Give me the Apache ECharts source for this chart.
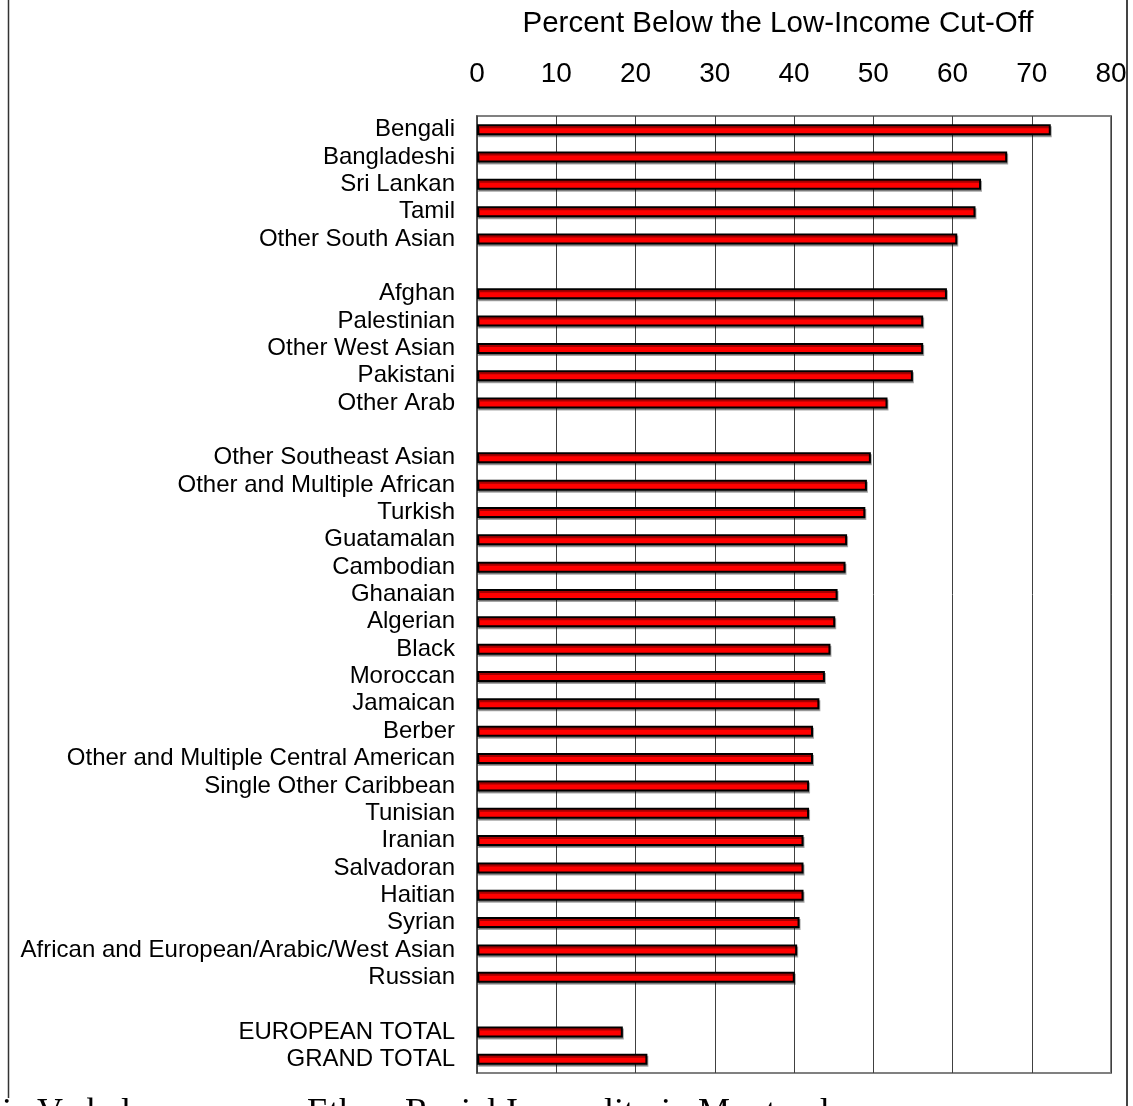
<!DOCTYPE html>
<html>
<head>
<meta charset="utf-8">
<script src="https://cdn.jsdelivr.net/npm/echarts@6/dist/echarts.min.js"></script>
<style>
html,body{margin:0;padding:0;background:#fff;}
#chart{width:1133px;height:1106px;}
</style>
</head>
<body>
<div id="chart"></div>
<script>
// Categories (blank entries are the gaps between groups)
const categories = [
  "Bengali", "Bangladeshi", "Sri Lankan", "Tamil", "Other South Asian",
  " ",
  "Afghan", "Palestinian", "Other West Asian", "Pakistani", "Other Arab",
  "  ",
  "Other Southeast Asian", "Other and Multiple African", "Turkish", "Guatamalan",
  "Cambodian", "Ghanaian", "Algerian", "Black", "Moroccan", "Jamaican", "Berber",
  "Other and Multiple Central American", "Single Other Caribbean", "Tunisian",
  "Iranian", "Salvadoran", "Haitian", "Syrian",
  "African and European/Arabic/West Asian", "Russian",
  "   ",
  "EUROPEAN TOTAL", "GRAND TOTAL"
];
// Percent below the low-income cut-off
const values = [
  72.4, 66.9, 63.6, 62.9, 60.6,
  null,
  59.3, 56.3, 56.3, 55.0, 51.8,
  null,
  49.7, 49.2, 49.0, 46.7,
  46.5, 45.5, 45.2, 44.6, 43.9, 43.2, 42.4,
  42.4, 41.9, 41.9,
  41.2, 41.2, 41.2, 40.7,
  40.4, 40.1,
  null,
  18.4, 21.5
];
const axisTitle = "Percent Below the Low-Income Cut-Off";
const footerLeft = "ic Verbal";
const footerRight = "Ethno-Racial Inequality in Montreal";

const chart = echarts.init(document.getElementById('chart'), null, {renderer: 'canvas'});
const sans = '"Liberation Sans", Arial, sans-serif';
const serif = '"Liberation Serif", "Times New Roman", serif';
const option = {
  backgroundColor: '#ffffff',
  animation: false,
  grid: {
    left: 477, right: 22, top: 116, bottom: 33,
    containLabel: false,
    show: true, borderColor: '#808080', borderWidth: 2, backgroundColor: 'transparent'
  },
  xAxis: {
    type: 'value', position: 'top', min: 0, max: 80, interval: 10,
    axisLine: {show: false},
    axisTick: {show: false},
    axisLabel: {fontSize: 28, color: '#000', fontFamily: sans, margin: 28},
    splitLine: {show: true, lineStyle: {color: '#404040', width: 1}}
  },
  yAxis: {
    type: 'category', inverse: true, data: categories,
    axisLine: {show: true, lineStyle: {color: '#404040', width: 1.5}},
    axisTick: {show: false},
    axisLabel: {fontSize: 24, color: '#000', fontFamily: sans, margin: 22, interval: 0},
    splitLine: {show: false}
  },
  series: [{
    type: 'bar',
    data: values,
    barWidth: 11,
    itemStyle: {
      color: '#ff0000', borderColor: '#000', borderWidth: 2,
      shadowColor: 'rgba(0,0,0,0.35)', shadowOffsetX: 1, shadowOffsetY: 2, shadowBlur: 0
    }
  }],
  graphic: [
    {type: 'text', x: 778, y: 24, style: {text: axisTitle, font: '29.5px ' + sans, fill: '#000', textAlign: 'center', textVerticalAlign: 'middle'}},
    {type: 'line', shape: {x1: 8.5, y1: 0, x2: 8.5, y2: 1098}, style: {stroke: '#333', lineWidth: 1.5}},
    {type: 'line', shape: {x1: 1127, y1: 0, x2: 1127, y2: 1106}, style: {stroke: '#444', lineWidth: 2}},
    {type: 'text', x: 2, y: 1132, style: {text: footerLeft, font: '36px ' + serif, fill: '#000', textVerticalAlign: 'bottom'}},
    {type: 'text', x: 307, y: 1132, style: {text: footerRight, font: '36px ' + serif, fill: '#000', textVerticalAlign: 'bottom'}}
  ]
};
chart.setOption(option);
</script>
</body>
</html>
